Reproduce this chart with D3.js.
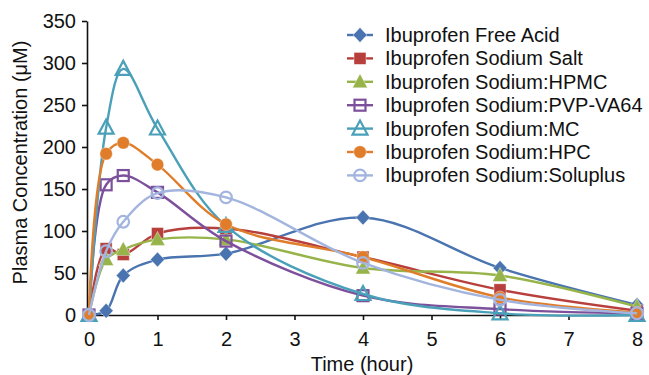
<!DOCTYPE html>
<html>
<head>
<meta charset="utf-8">
<script src="https://cdn.jsdelivr.net/npm/d3@7"></script>
<style>
  body { margin: 0; background: #fff; }
  text { font-family: "Liberation Sans", Arial, sans-serif; fill: #111; }
</style>
</head>
<body>
<div id="chart"></div>
<script>
// Datos
const times = [0, 0.25, 0.5, 1, 2, 4, 6, 8];
const seriesNames = [
  "Ibuprofen Free Acid",
  "Ibuprofen Sodium Salt",
  "Ibuprofen Sodium:HPMC",
  "Ibuprofen Sodium:PVP-VA64",
  "Ibuprofen Sodium:MC",
  "Ibuprofen Sodium:HPC",
  "Ibuprofen Sodium:Soluplus"
];
const freeAcid = [0, 5, 47, 66, 73, 116, 56, 12];
const sodiumSalt = [0, 79, 72, 97, 103, 69, 30, 5];
const hpmc = [0, 66, 78, 90, 90, 56, 47, 10];
const pvpva64 = [0, 155, 166, 146, 88, 23, 7, 2];
const mc = [0, 223, 293, 222, 106, 25, 2, 0];
const hpc = [0, 192, 205, 179, 108, 69, 21, 3];
const soluplus = [0, 76, 111, 145, 140, 62, 18, 2];
const xTicks = [0, 1, 2, 3, 4, 5, 6, 7, 8];
const yTicks = [0, 50, 100, 150, 200, 250, 300, 350];

const allValues = [freeAcid, sodiumSalt, hpmc, pvpva64, mc, hpc, soluplus];
const colors = ["#4a74b0", "#b8403c", "#97b44a", "#7d509b", "#4aa0b8", "#e07d2b", "#a3b5de"];
const symbols = ["diamond", "square", "triangle", "squareOpen", "triangleOpen", "circle", "circleOpen"];

// Configuración
const W = 649, H = 375;
const margin = { top: 21, right: 12, bottom: 60, left: 89 };
const width = W - margin.left - margin.right;
const height = H - margin.top - margin.bottom;

const svg = d3.select("#chart").append("svg")
  .attr("width", W).attr("height", H);
const g = svg.append("g")
  .attr("transform", `translate(${margin.left},${margin.top})`);

const x = d3.scaleLinear().domain([0, 8]).range([0, 548]);
const y = d3.scaleLinear().domain([0, 350]).range([height, 0]);

// Ejes
const xAxis = g.append("g")
  .attr("transform", `translate(0,${height})`)
  .call(d3.axisBottom(x).tickValues(xTicks).tickSize(5).tickSizeOuter(0).tickPadding(12));
const yAxis = g.append("g")
  .attr("transform", "translate(-2,0)")
  .call(d3.axisLeft(y).tickValues(yTicks).tickSize(5).tickSizeOuter(0).tickPadding(6));
[xAxis, yAxis].forEach(a => {
  a.selectAll("path, line").attr("stroke", "#111").attr("stroke-width", 1.6);
  a.selectAll("text").style("font-size", "20px").attr("fill", "#111");
});

// Marcadores
function drawMarker(sel, type, color) {
  if (type === "diamond") {
    sel.append("path").attr("d", "M0,-7.5L7,0L0,7.5L-7,0Z")
      .attr("fill", color).attr("stroke", "#fff").attr("stroke-opacity", 0.5).attr("stroke-width", 0.8);
  } else if (type === "square") {
    sel.append("rect").attr("x", -6).attr("y", -6).attr("width", 12).attr("height", 12)
      .attr("fill", color).attr("stroke", "#fff").attr("stroke-opacity", 0.5).attr("stroke-width", 0.8);
  } else if (type === "triangle") {
    sel.append("path").attr("d", "M0,-8L7.5,6L-7.5,6Z")
      .attr("fill", color).attr("stroke", "#fff").attr("stroke-opacity", 0.5).attr("stroke-width", 0.8);
  } else if (type === "squareOpen") {
    sel.append("rect").attr("x", -5.5).attr("y", -5.5).attr("width", 11).attr("height", 11)
      .attr("fill", "none").attr("stroke", color).attr("stroke-width", 2.2);
  } else if (type === "triangleOpen") {
    sel.append("path").attr("d", "M0,-8L7.5,6L-7.5,6Z")
      .attr("fill", "none").attr("stroke", color).attr("stroke-width", 2.2);
  } else if (type === "circle") {
    sel.append("circle").attr("r", 6.3)
      .attr("fill", color).attr("stroke", "#fff").attr("stroke-opacity", 0.5).attr("stroke-width", 0.8);
  } else if (type === "circleOpen") {
    sel.append("circle").attr("r", 5.8)
      .attr("fill", "none").attr("stroke", color).attr("stroke-width", 2.2);
  }
}

const line = d3.line()
  .x((d, i) => x(times[i]))
  .y(d => y(d))
  .curve(d3.curveCatmullRom.alpha(0.5));

allValues.forEach((vals, s) => {
  const sg = g.append("g");
  sg.append("path")
    .attr("d", line(vals))
    .attr("fill", "none")
    .attr("stroke", colors[s])
    .attr("stroke-width", 2.4);
  vals.forEach((v, i) => {
    const m = sg.append("g").attr("transform", `translate(${x(times[i])},${y(v)})`);
    drawMarker(m, symbols[s], colors[s]);
  });
});

// Leyenda
const legend = svg.append("g").attr("transform", "translate(360,35)");
seriesNames.forEach((name, s) => {
  const row = legend.append("g").attr("transform", `translate(0,${s * 23.4})`);
  row.append("line").attr("x1", -13).attr("x2", 13)
    .attr("stroke", colors[s]).attr("stroke-width", 2.4);
  drawMarker(row, symbols[s], colors[s]);
  row.append("text").attr("x", 25).attr("dy", "0.35em")
    .style("font-size", "20px").text(name);
});

// Títulos
svg.append("text")
  .attr("x", 362)
  .attr("y", 371)
  .style("text-anchor", "middle")
  .style("font-size", "20px")
  .text("Time (hour)");

svg.append("text")
  .attr("transform", "rotate(-90)")
  .attr("x", -162.5)
  .attr("y", 27)
  .style("text-anchor", "middle")
  .style("font-size", "20px")
  .text("Plasma Concentration (μM)");
</script>
</body>
</html>
